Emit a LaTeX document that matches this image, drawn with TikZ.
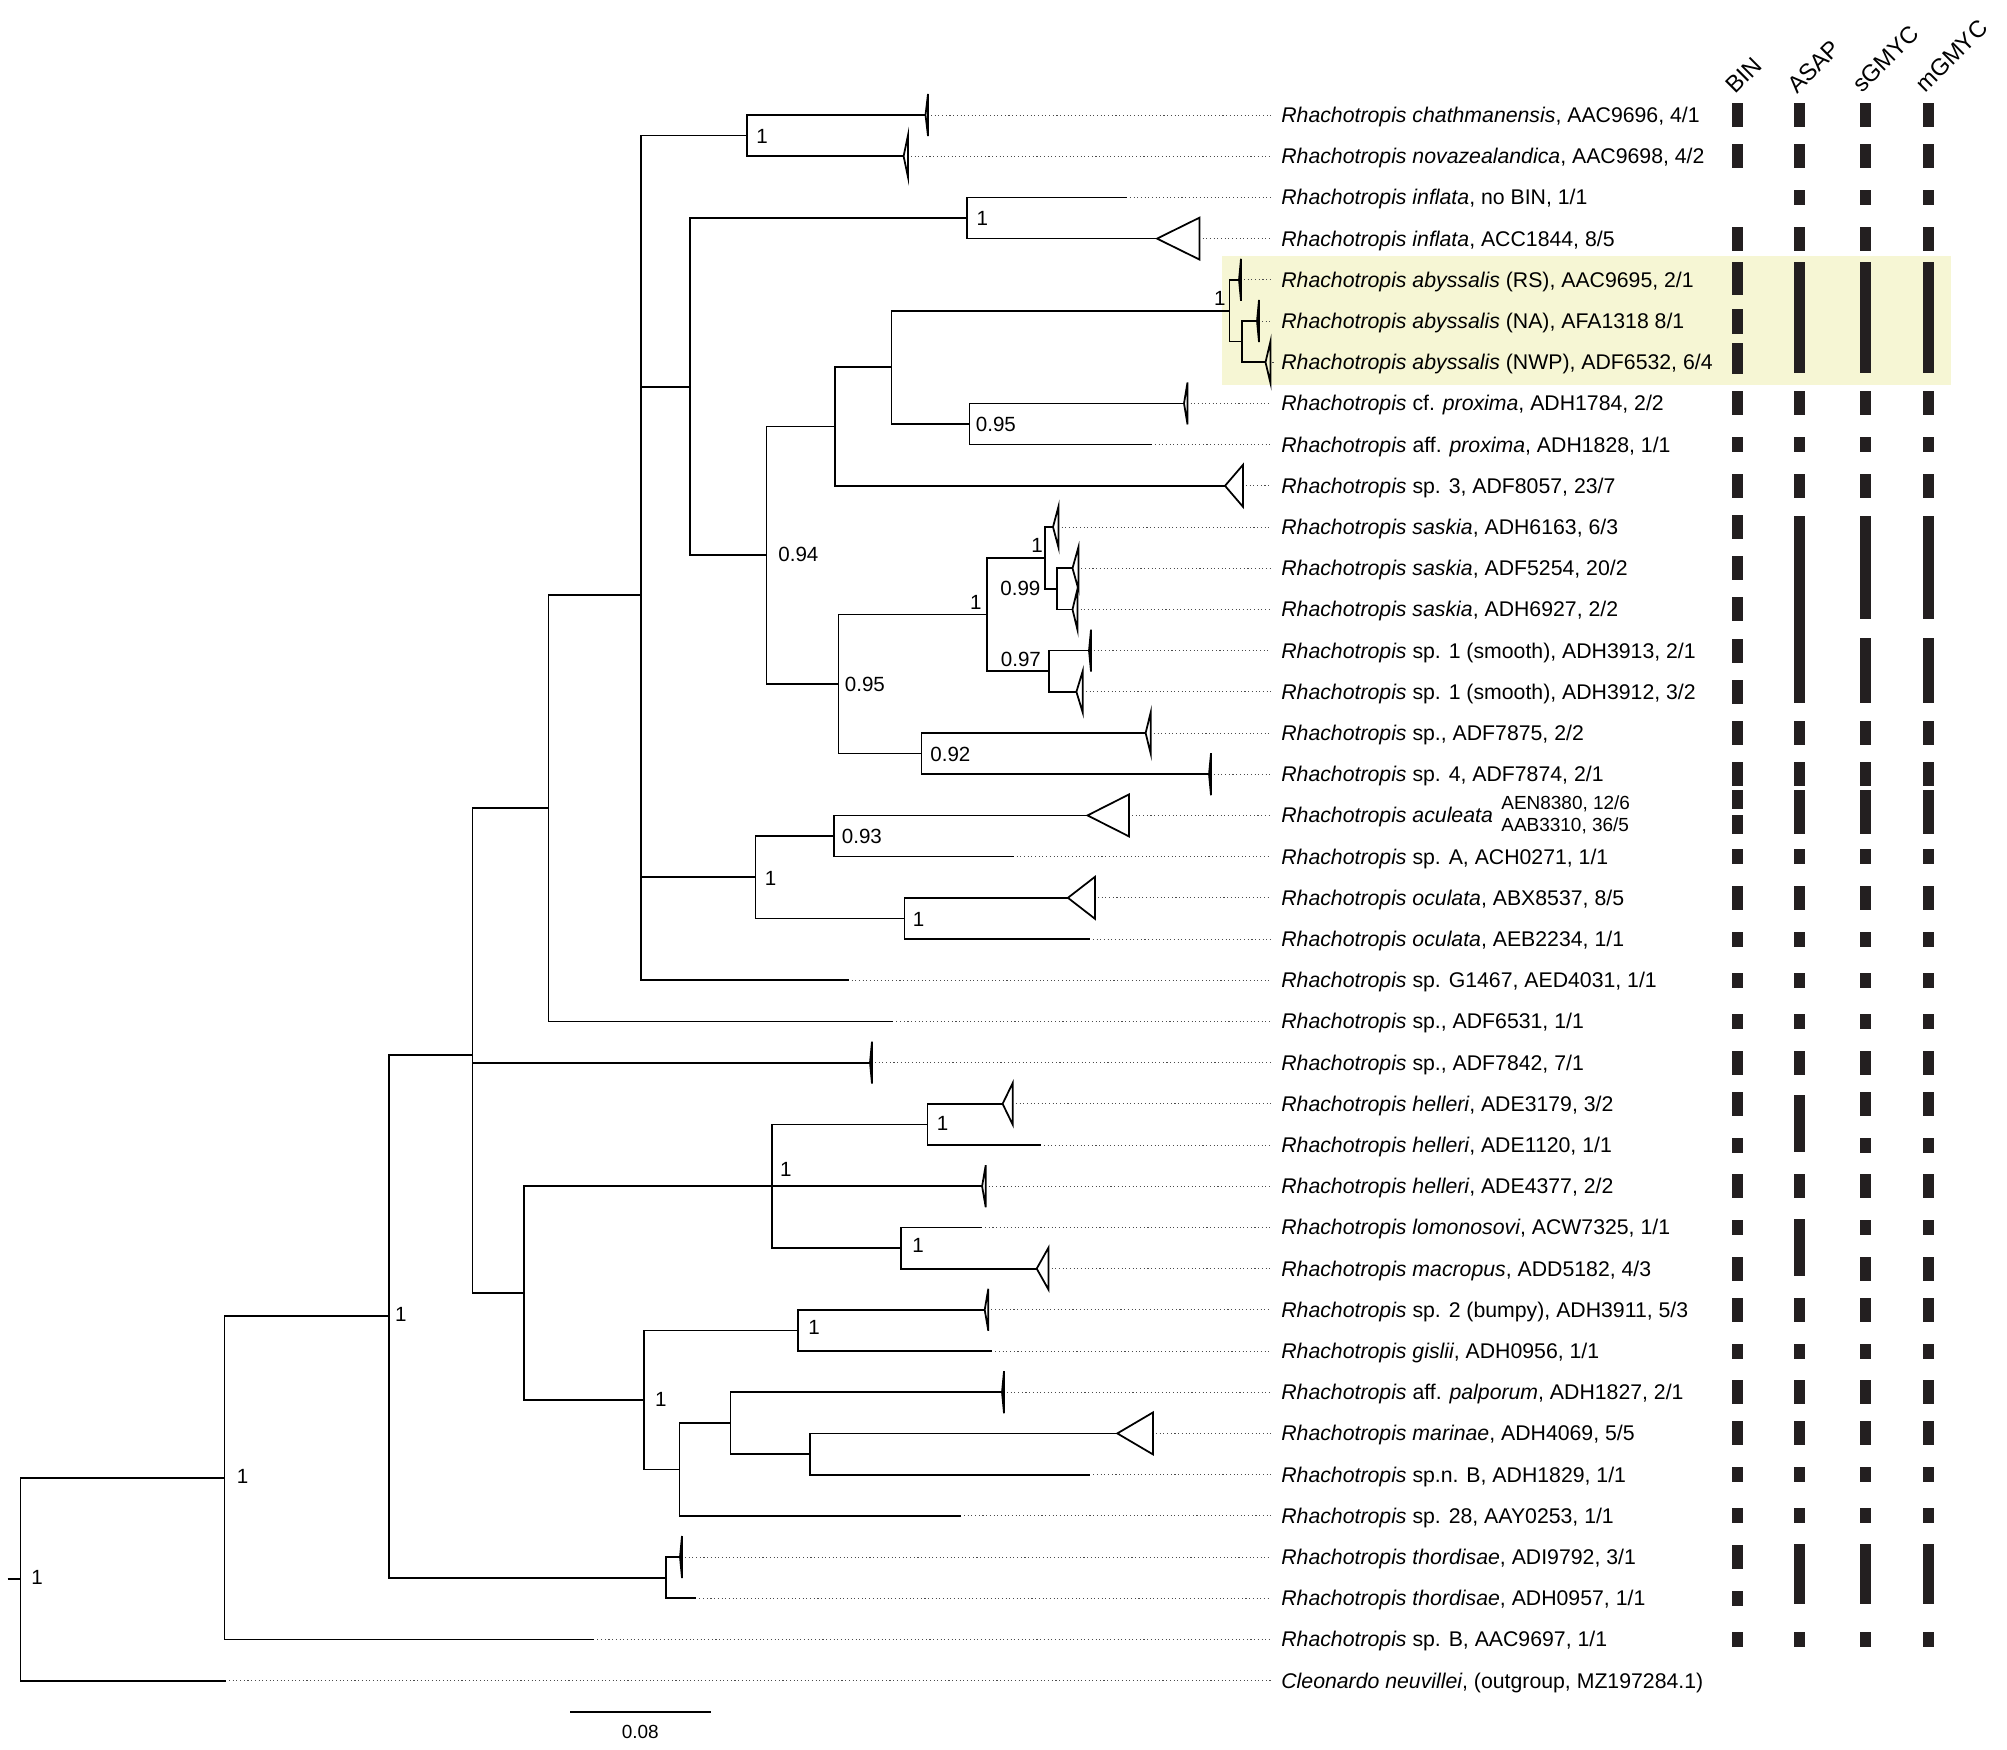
\documentclass[tikz,border=0pt]{standalone}
\usepackage{fontspec}
\setmainfont{Liberation Sans}
\usetikzlibrary{calc}
\definecolor{hlyellow}{RGB}{246,246,212}
\definecolor{bardark}{RGB}{35,31,32}

% single tip: id, branch end x, row y, label
\newcommand{\taxleaf}[4]{%
  \coordinate (t#1) at (#2,#3);
  \node[taxon] (l#1) at (1281,#3+7.5) {#4};
  \draw[leader] ($(t#1)+(3,0)$) -- (t#1 -| l#1.west);
}
% collapsed clade: id, triangle tip x, row y, triangle width, label
\newcommand{\taxclade}[5]{%
  \coordinate (t#1) at (#2,#3);
  \draw[branch] (t#1) -- ++(#4,-21) -- ++(0,42) -- cycle;
  \node[taxon] (l#1) at (1281,#3+7.5) {#5};
  \draw[leader] ($(t#1)+(#4+3,0)$) -- (t#1 -| l#1.west);
}

\begin{document}
\begin{tikzpicture}[x=0.02cm, y=-0.02cm,
  branch/.style={line width=1pt},
  leader/.style={black!70, line width=0.5pt, dash pattern=on 0.6pt off 1.5pt, shorten >=0.2cm},
  taxon/.style={anchor=base west, inner sep=0pt, font=\fontsize{12.1}{14}\selectfont},
  taxsmall/.style={anchor=base west, inner sep=0pt, font=\fontsize{10.8}{13}\selectfont},
  support/.style={anchor=west, inner sep=0pt, font=\fontsize{11.7}{14}\selectfont},
  header/.style={anchor=base west, inner sep=0pt, rotate=45, font=\fontsize{13.4}{16}\selectfont},
  mk/.style={fill=bardark}]
\useasboundingbox (0,0) rectangle (2007,1749);

% highlighted clade
\fill[hlyellow] (1221.6,256) rectangle (1950.5,385);

% Tips
\taxclade{1}{925.5}{115}{2.5}{\textit{Rhachotropis chathmanensis}, AAC9696, 4/1}
\taxclade{2}{903.6}{156.2}{4.4}{\textit{Rhachotropis novazealandica}, AAC9698, 4/2}
\taxleaf{3}{1126.8}{197.4}{\textit{Rhachotropis inflata}, no BIN, 1/1}
\taxclade{4}{1157}{238.6}{42.6}{\textit{Rhachotropis inflata}, ACC1844, 8/5}
\taxclade{5}{1239}{279.8}{2}{\textit{Rhachotropis abyssalis} (RS), AAC9695, 2/1}
\taxclade{6}{1257}{321}{2}{\textit{Rhachotropis abyssalis} (NA), AFA1318 8/1}
\taxclade{7}{1265.5}{362.2}{5}{\textit{Rhachotropis abyssalis} (NWP), ADF6532, 6/4}
\taxclade{8}{1184}{403.4}{3.5}{\textit{Rhachotropis} cf. \textit{proxima}, ADH1784, 2/2}
\taxleaf{9}{1151.8}{444.6}{\textit{Rhachotropis} aff. \textit{proxima}, ADH1828, 1/1}
\taxclade{10}{1225}{485.8}{18}{\textit{Rhachotropis} sp. 3, ADF8057, 23/7}
\taxclade{11}{1053}{527}{5.6}{\textit{Rhachotropis saskia}, ADH6163, 6/3}
\taxclade{12}{1072.5}{568.2}{5.9}{\textit{Rhachotropis saskia}, ADF5254, 20/2}
\taxclade{13}{1072.5}{609.4}{5.1}{\textit{Rhachotropis saskia}, ADH6927, 2/2}
\taxclade{14}{1089}{650.6}{2}{\textit{Rhachotropis} sp. 1 (smooth), ADH3913, 2/1}
\taxclade{15}{1076.4}{691.8}{6.4}{\textit{Rhachotropis} sp. 1 (smooth), ADH3912, 3/2}
\taxclade{16}{1145.6}{733}{5.2}{\textit{Rhachotropis} sp., ADF7875, 2/2}
\taxclade{17}{1209}{774.2}{2}{\textit{Rhachotropis} sp. 4, ADF7874, 2/1}
\taxclade{18}{1087.5}{815.4}{41.5}{\textit{Rhachotropis aculeata}}
\taxleaf{19}{1013.6}{856.6}{\textit{Rhachotropis} sp. A, ACH0271, 1/1}
\taxclade{20}{1067.9}{897.8}{27.1}{\textit{Rhachotropis oculata}, ABX8537, 8/5}
\taxleaf{21}{1089.8}{939}{\textit{Rhachotropis oculata}, AEB2234, 1/1}
\taxleaf{22}{848.5}{980.2}{\textit{Rhachotropis} sp. G1467, AED4031, 1/1}
\taxleaf{23}{893.4}{1021.4}{\textit{Rhachotropis} sp., ADF6531, 1/1}
\taxclade{24}{870}{1062.6}{2}{\textit{Rhachotropis} sp., ADF7842, 7/1}
\taxclade{25}{1002.6}{1103.8}{10.2}{\textit{Rhachotropis helleri}, ADE3179, 3/2}
\taxleaf{26}{1040.8}{1145}{\textit{Rhachotropis helleri}, ADE1120, 1/1}
\taxclade{27}{982.1}{1186.2}{3.6}{\textit{Rhachotropis helleri}, ADE4377, 2/2}
\taxleaf{28}{982.1}{1227.4}{\textit{Rhachotropis lomonosovi}, ACW7325, 1/1}
\taxclade{29}{1036.7}{1268.6}{11.8}{\textit{Rhachotropis macropus}, ADD5182, 4/3}
\taxclade{30}{984.7}{1309.8}{3.6}{\textit{Rhachotropis} sp. 2 (bumpy), ADH3911, 5/3}
\taxleaf{31}{992.3}{1351}{\textit{Rhachotropis gislii}, ADH0956, 1/1}
\taxclade{32}{1002}{1392.2}{2}{\textit{Rhachotropis} aff. \textit{palporum}, ADH1827, 2/1}
\taxclade{33}{1117.3}{1433.4}{35.7}{\textit{Rhachotropis marinae}, ADH4069, 5/5}
\taxleaf{34}{1090.3}{1474.6}{\textit{Rhachotropis} sp.n. B, ADH1829, 1/1}
\taxleaf{35}{961}{1515.8}{\textit{Rhachotropis} sp. 28, AAY0253, 1/1}
\taxclade{36}{680}{1557}{2}{\textit{Rhachotropis thordisae}, ADI9792, 3/1}
\taxleaf{37}{696.4}{1598.2}{\textit{Rhachotropis thordisae}, ADH0957, 1/1}
\taxleaf{38}{594.4}{1639.4}{\textit{Rhachotropis} sp. B, AAC9697, 1/1}
\taxleaf{39}{226}{1680.6}{\textit{Cleonardo neuvillei}, (outgroup, MZ197284.1)}
\node[taxsmall] (bin18a) at (1501,809) {AEN8380, 12/6};
\node[taxsmall] (bin18b) at (1501,831) {AAB3310, 36/5};

% Internal nodes
\coordinate (stub) at (7.7,1579.2);
\coordinate (root) at (20.4,1579.2);
\coordinate (nJ) at (224.5,1477.75);
\coordinate (nH) at (388.8,1316.1);
\coordinate (nThor) at (665.8,1577.6);
\coordinate (nG) at (472.4,1054.6);
\coordinate (nF) at (548.5,808.2);
\coordinate (nI) at (524,1293.05);
\coordinate (nB) at (640.8,594.9);
\coordinate (nA) at (747.3,135.6);
\coordinate (nC) at (690.2,386.7);
\coordinate (nAO) at (755.5,877.2);
\coordinate (nInf) at (967,218);
\coordinate (n094) at (766.4,555.35);
\coordinate (nD) at (835.3,426.6);
\coordinate (nE) at (891.5,367.35);
\coordinate (nAby) at (1229.5,310.7);
\coordinate (nNA) at (1242,341.6);
\coordinate (n095a) at (969.6,424);
\coordinate (n095b) at (838.4,684.1);
\coordinate (nSS) at (987,614.55);
\coordinate (nSas) at (1044.8,557.9);
\coordinate (n099) at (1057,588.8);
\coordinate (n097) at (1048.8,671.2);
\coordinate (n092) at (921.4,753.6);
\coordinate (n093) at (834.3,836);
\coordinate (nOcu) at (904.6,918.4);
\coordinate (nX) at (772,1186.2);
\coordinate (nHel) at (927.6,1124.4);
\coordinate (nLom) at (901,1248);
\coordinate (nL) at (643.9,1399.9);
\coordinate (nSp2) at (798,1330.4);
\coordinate (nM) at (679.6,1469.45);
\coordinate (nP) at (730.6,1423.1);
\coordinate (nMar) at (810.2,1454);

% Branches
\draw[branch] (stub) -- (root);
\draw[branch] (root) |- (nJ) (root) |- (t39);
\draw[branch] (nJ) |- (nH) (nJ) |- (t38);
\draw[branch] (nH) |- (nG) (nH) |- (nThor);
\draw[branch] (nThor) |- (t36) (nThor) |- (t37);
\draw[branch] (nG) |- (nF) (nG) |- (t24) (nG) |- (nI);
\draw[branch] (nF) |- (nB) (nF) |- (t23);
\draw[branch] (nB) |- (nA) (nB) |- (nC) (nB) |- (nAO) (nB) |- (t22);
\draw[branch] (nA) |- (t1) (nA) |- (t2);
\draw[branch] (nC) |- (nInf) (nC) |- (n094);
\draw[branch] (nInf) |- (t3) (nInf) |- (t4);
\draw[branch] (n094) |- (nD) (n094) |- (n095b);
\draw[branch] (nD) |- (nE) (nD) |- (t10);
\draw[branch] (nE) |- (nAby) (nE) |- (n095a);
\draw[branch] (nAby) |- (t5) (nAby) |- (nNA);
\draw[branch] (nNA) |- (t6) (nNA) |- (t7);
\draw[branch] (n095a) |- (t8) (n095a) |- (t9);
\draw[branch] (n095b) |- (nSS) (n095b) |- (n092);
\draw[branch] (nSS) |- (nSas) (nSS) |- (n097);
\draw[branch] (nSas) |- (t11) (nSas) |- (n099);
\draw[branch] (n099) |- (t12) (n099) |- (t13);
\draw[branch] (n097) |- (t14) (n097) |- (t15);
\draw[branch] (n092) |- (t16) (n092) |- (t17);
\draw[branch] (nAO) |- (n093) (nAO) |- (nOcu);
\draw[branch] (n093) |- (t18) (n093) |- (t19);
\draw[branch] (nOcu) |- (t20) (nOcu) |- (t21);
\draw[branch] (nI) |- (nX) (nI) |- (nL);
\draw[branch] (nX) |- (nHel) (nX) |- (t27) (nX) |- (nLom);
\draw[branch] (nHel) |- (t25) (nHel) |- (t26);
\draw[branch] (nLom) |- (t28) (nLom) |- (t29);
\draw[branch] (nL) |- (nSp2) (nL) |- (nM);
\draw[branch] (nSp2) |- (t30) (nSp2) |- (t31);
\draw[branch] (nM) |- (nP) (nM) |- (t35);
\draw[branch] (nP) |- (t32) (nP) |- (nMar);
\draw[branch] (nMar) |- (t33) (nMar) |- (t34);

% Posterior probabilities
\node[support] (sA) at (756,136.7) {1};
\node[support] (sInf) at (976.3,218.3) {1};
\node[support] (sAby) at (1213.7,298.5) {1};
\node[support] (s095a) at (975.5,424) {0.95};
\node[support] (s094) at (778,554) {0.94};
\node[support] (s095b) at (844.5,684) {0.95};
\node[support] (sSS) at (969.7,602.5) {1};
\node[support] (sSas) at (1031,545.3) {1};
\node[support] (s099) at (1000,588.3) {0.99};
\node[support] (s097) at (1000.5,659.7) {0.97};
\node[support] (s092) at (930,754) {0.92};
\node[support] (s093) at (841.5,836) {0.93};
\node[support] (sAO) at (764.5,878) {1};
\node[support] (sOcu) at (912.5,919) {1};
\node[support] (sX) at (779.8,1169) {1};
\node[support] (sHel) at (936.5,1123) {1};
\node[support] (sLom) at (912,1245.8) {1};
\node[support] (sSp2) at (808,1327) {1};
\node[support] (sL) at (654.8,1399.5) {1};
\node[support] (sH) at (394.7,1314) {1};
\node[support] (sJ) at (236.5,1476.7) {1};
\node[support] (sRoot) at (31,1577.5) {1};

% Scale bar
\coordinate (sbL) at (570,1711.7);
\coordinate (sbR) at (710.7,1711.7);
\draw[branch] (sbL) -- (sbR);
\node[font=\fontsize{10.8}{13}\selectfont, inner sep=0pt] (sbT) at (640.3,1731.7) {0.08};

% Delimitation columns
\node[header] (hBIN) at (1735,95) {BIN};
\node[header] (hASAP) at (1797,95) {ASAP};
\node[header] (hsG) at (1862,94) {sGMYC};
\node[header] (hmG) at (1925,94) {mGMYC};

\foreach \r in {115,156.2,238.6,403.4,485.8,733,774.2,897.8,1062.6,1186.2,1309.8,1392.2,1433.4}
  \foreach \c in {1732,1794,1860,1923}
    \fill[mk] (\c,\r-12) rectangle ++(11.4,24);
\foreach \r in {444.6,856.6,939,980.2,1021.4,1351,1474.6,1515.8,1639.4}
  \foreach \c in {1732,1794,1860,1923}
    \fill[mk] (\c,\r-7.5) rectangle ++(11.4,15);
\foreach \c in {1794,1860,1923}
  \fill[mk] (\c,197.4-7.5) rectangle ++(11.4,15);
\foreach \r in {527,568.2,609.4,650.6,691.8,1557}
  \fill[mk] (1732,\r-12) rectangle ++(11.4,24);
\foreach \r in {1103.8,1268.6}
  \foreach \c in {1732,1860,1923}
    \fill[mk] (\c,\r-12) rectangle ++(11.4,24);
\foreach \r in {1145,1227.4}
  \foreach \c in {1732,1860,1923}
    \fill[mk] (\c,\r-7.5) rectangle ++(11.4,15);
\fill[mk] (1732,1598.2-7.5) rectangle ++(11.4,15);
\foreach \c/\a/\b in {1732/262.3/295, 1732/309.3/334.3, 1732/343.3/374, 1732/790/809, 1732/815/834,
    1794/262.3/373.3, 1794/516/703.3, 1794/790/834, 1794/1094.7/1152.3, 1794/1219.3/1276, 1794/1544.3/1604,
    1860/262.3/373.3, 1860/515.7/619, 1860/638.3/703.3, 1860/790/834, 1860/1544.3/1604,
    1923/262.3/373.3, 1923/515.7/619, 1923/638.3/703.3, 1923/790/834, 1923/1544.3/1604}
  \fill[mk] (\c,\a) rectangle (\c+11.4,\b);
\end{tikzpicture}
\end{document}
